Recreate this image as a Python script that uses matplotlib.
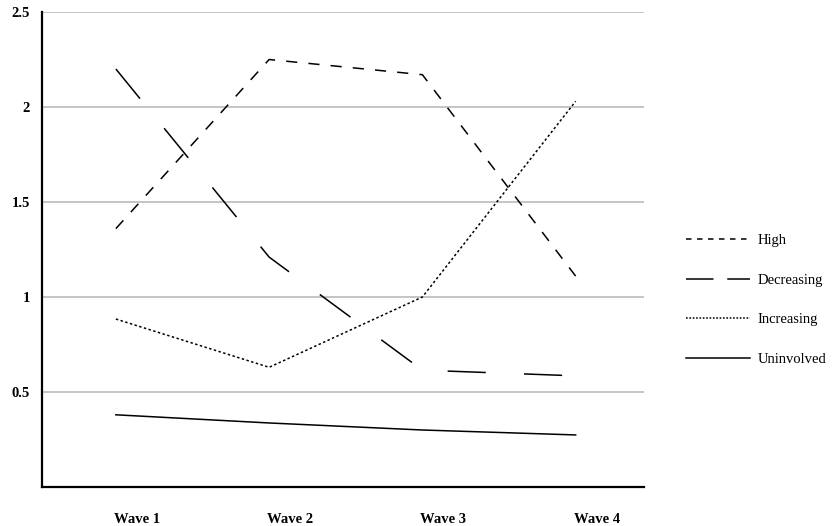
import matplotlib
matplotlib.use("Agg")
import matplotlib.pyplot as plt
from matplotlib.lines import Line2D

plt.rcParams['font.family'] = ['Liberation Serif', 'DejaVu Serif']

waves = ["Wave 1", "Wave 2", "Wave 3", "Wave 4"]
high = [1.36, 2.25, 2.17, 1.11]
decreasing = [2.20, 1.21, 0.615, 0.585]
increasing = [0.884, 0.63, 1.00, 2.03]
uninvolved = [0.38, 0.337, 0.30, 0.274]
yticks = [0.5, 1, 1.5, 2, 2.5]
ytick_labels = ["0.5", "1", "1.5", "2", "2.5"]

fig = plt.figure(figsize=(8.32, 5.26), dpi=100)
ax = fig.add_axes([42/832, 1 - 487/526, (644-42)/832, (487-12)/526])

x = list(range(len(waves)))
lw = 1.1
ax.plot(x, high, color='black', lw=lw, dashes=(7.3, 7.3), label='High')
ax.plot(x, decreasing, color='black', lw=lw, dashes=(25, 25), label='Decreasing')
ax.plot(x, increasing, color='black', lw=lw, dashes=(1.6, 1.6), label='Increasing')
ax.plot(x, uninvolved, color='black', lw=lw, label='Uninvolved')

ax.set_ylim(0, 2.5)
ax.set_xlim(-0.482, 3.446)
ax.set_yticks(yticks)
ax.set_yticklabels(ytick_labels, fontsize=10.5, fontweight='bold')
ax.set_xticks([i + 0.137 for i in x])
ax.set_xticklabels(waves, fontsize=10.5, fontweight='bold')
ax.tick_params(axis='both', length=0)
ax.tick_params(axis='y', pad=8.5)
ax.tick_params(axis='x', pad=19)
ax.yaxis.grid(True, color='#c0c0c0', lw=1.3)
ax.set_axisbelow(True)
for s in ['top', 'right']:
    ax.spines[s].set_visible(False)
for s in ['left', 'bottom']:
    ax.spines[s].set_linewidth(1.6)
    ax.spines[s].set_color('black')

handles = [
    Line2D([], [], color='black', lw=lw, dashes=(3.6, 3.6)),
    Line2D([], [], color='black', lw=lw, dashes=(18, 9)),
    Line2D([], [], color='black', lw=lw, dashes=(1.1, 1.1)),
    Line2D([], [], color='black', lw=lw),
]
labels = ['High', 'Decreasing', 'Increasing', 'Uninvolved']
fig.legend(handles, labels, loc='center left', bbox_to_anchor=(680/832, 1 - 300/526),
           frameon=False, fontsize=10.5, handlelength=4.4, handletextpad=0.5,
           labelspacing=1.8, borderaxespad=0)

fig.savefig("out.png", dpi=100)
